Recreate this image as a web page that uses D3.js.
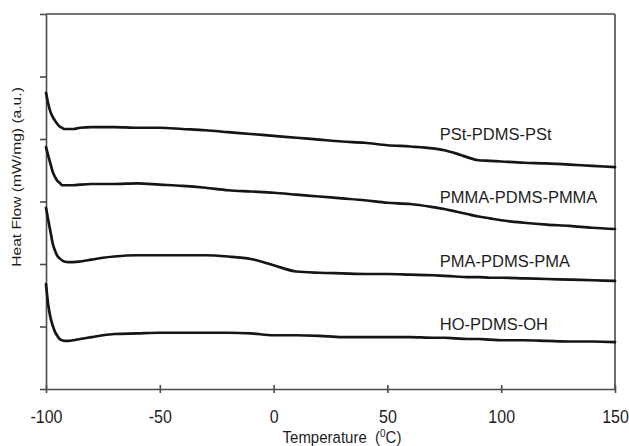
<!DOCTYPE html>
<html>
<head>
<meta charset="utf-8">
<script src="https://cdn.jsdelivr.net/npm/d3@7/dist/d3.min.js"></script>
<style>
  html, body { margin: 0; padding: 0; background: #fff; }
  svg { display: block; font-family: "Liberation Sans", Arial, sans-serif; }
</style>
</head>
<body>
<div id="chart"></div>
<script>
// DSC heating traces of PDMS and its triblock copolymers (curves offset vertically)
const temperature = [-100, -99, -98, -97, -96, -95, -94, -93, -92, -90, -88, -85, -80, -75, -70,
  -60, -50, -40, -30, -20, -10, 0, 10, 20, 30, 40, 50, 60, 70, 75, 80, 85, 90, 95, 100,
  110, 120, 130, 140, 150];

const pstPdmsPst = [4.74, 4.56, 4.43, 4.35, 4.29, 4.24, 4.20, 4.18, 4.16, 4.16, 4.16, 4.18, 4.19, 4.19, 4.19,
  4.18, 4.18, 4.16, 4.14, 4.11, 4.08, 4.05, 4.02, 3.99, 3.96, 3.94, 3.90, 3.88, 3.85, 3.82, 3.77, 3.71, 3.66, 3.65, 3.64,
  3.62, 3.61, 3.59, 3.57, 3.55];

const pmmaPdmsPmma = [3.87, 3.73, 3.60, 3.47, 3.39, 3.33, 3.30, 3.26, 3.26, 3.26, 3.26, 3.27, 3.28, 3.28, 3.28,
  3.29, 3.27, 3.25, 3.22, 3.18, 3.16, 3.14, 3.11, 3.08, 3.05, 3.02, 2.98, 2.96, 2.91, 2.88, 2.84, 2.80, 2.76, 2.73, 2.70,
  2.66, 2.63, 2.61, 2.58, 2.56];

const pmaPdmsPma = [2.90, 2.70, 2.51, 2.32, 2.21, 2.13, 2.09, 2.06, 2.04, 2.03, 2.03, 2.04, 2.07, 2.10, 2.12,
  2.14, 2.14, 2.14, 2.14, 2.12, 2.08, 1.98, 1.88, 1.86, 1.85, 1.84, 1.84, 1.83, 1.82, 1.81, 1.80, 1.79, 1.79, 1.78, 1.78,
  1.77, 1.76, 1.75, 1.74, 1.73];

const hoPdmsOh = [1.68, 1.34, 1.14, 1.01, 0.91, 0.85, 0.80, 0.78, 0.77, 0.77, 0.78, 0.80, 0.83, 0.86, 0.88,
  0.89, 0.90, 0.90, 0.90, 0.90, 0.89, 0.86, 0.86, 0.85, 0.83, 0.83, 0.83, 0.83, 0.82, 0.82, 0.81, 0.80, 0.80, 0.79, 0.78,
  0.78, 0.77, 0.76, 0.76, 0.75];

const seriesNames = ["PSt-PDMS-PSt", "PMMA-PDMS-PMMA", "PMA-PDMS-PMA", "HO-PDMS-OH"];
const seriesValues = [pstPdmsPst, pmmaPdmsPmma, pmaPdmsPma, hoPdmsOh];
// curve label anchors: [temperature, heat flow] of each label's baseline start
const labelAnchors = [[73, 3.98], [73, 2.98], [73, 1.95], [73, 0.94]];

const xTicks = [-100, -50, 0, 50, 100, 150];
const yTicks = [0, 1, 2, 3, 4, 5, 6];

const W = 629, H = 446;
const margin = { top: 14, right: 14, bottom: 57, left: 46 };

const svg = d3.select("#chart").append("svg")
  .attr("width", W).attr("height", H);

const x = d3.scaleLinear().domain([-100, 150]).range([margin.left, W - margin.right]);
const y = d3.scaleLinear().domain([0, 6]).range([H - margin.bottom, margin.top]);

const axisColor = "#4a4a4a";
const textColor = "#1e1e1e";
const stretch = 1.15; // glyphs are drawn slightly taller than wide

// frame: top and right edges
svg.append("line")
  .attr("x1", x(-100)).attr("x2", x(150)).attr("y1", y(6)).attr("y2", y(6))
  .attr("stroke", axisColor).attr("stroke-width", 1.6);
svg.append("line")
  .attr("x1", x(150)).attr("x2", x(150)).attr("y1", y(6)).attr("y2", y(0))
  .attr("stroke", axisColor).attr("stroke-width", 1.6);

// y axis (unlabelled ticks)
const yAxis = svg.append("g")
  .attr("transform", `translate(${x(-100)},0)`)
  .call(d3.axisLeft(y).tickValues(yTicks).tickSize(6).tickSizeOuter(0).tickFormat(""));
yAxis.selectAll("path, line").attr("stroke", axisColor).attr("stroke-width", 1.6);

// x axis, ticks crossing the axis line
const xAxis = svg.append("g")
  .attr("transform", `translate(0,${y(0)})`)
  .call(d3.axisBottom(x).tickValues(xTicks).tickSize(4).tickSizeOuter(0).tickFormat(d => String(d)));
xAxis.selectAll("path, line").attr("stroke", axisColor).attr("stroke-width", 1.6);
xAxis.selectAll(".tick line").attr("y1", -4).attr("y2", 4);
xAxis.selectAll(".tick text")
  .attr("y", 0).attr("dy", 0)
  .attr("transform", `translate(0,34) scale(1,${stretch})`)
  .attr("fill", textColor)
  .style("font-size", "16px")
  .style("font-family", "'Liberation Sans', Arial, sans-serif");

// curves
const line = d3.line()
  .x((d, i) => x(temperature[i]))
  .y(d => y(d))
  .curve(d3.curveMonotoneX);

svg.append("g").selectAll("path")
  .data(seriesValues)
  .join("path")
  .attr("d", d => line(d))
  .attr("fill", "none")
  .attr("stroke", "#151515")
  .attr("stroke-width", 2.7)
  .attr("stroke-linejoin", "round")
  .attr("stroke-linecap", "round");

// curve labels
svg.append("g").selectAll("text")
  .data(seriesNames)
  .join("text")
  .attr("transform", (d, i) =>
    `translate(${x(labelAnchors[i][0])},${y(labelAnchors[i][1])}) scale(1,1.04)`)
  .attr("fill", textColor)
  .style("font-size", "16.5px")
  .text(d => d);

// axis titles
const xTitle = svg.append("text")
  .attr("transform", `translate(342,443) scale(1,${stretch})`)
  .attr("text-anchor", "middle")
  .attr("fill", textColor)
  .style("white-space", "pre")
  .style("font-size", "15px");
xTitle.append("tspan").text("Temperature  (");
xTitle.append("tspan").attr("dy", -5).style("font-size", "10px").text("0");
xTitle.append("tspan").attr("dy", 5).text("C)");

svg.append("text")
  .attr("transform", `translate(21,177) scale(1,${stretch}) rotate(-90)`)
  .attr("text-anchor", "middle")
  .attr("fill", textColor)
  .style("font-size", "13.6px")
  .text("Heat Flow (mW/mg) (a.u.)");
</script>
</body>
</html>
